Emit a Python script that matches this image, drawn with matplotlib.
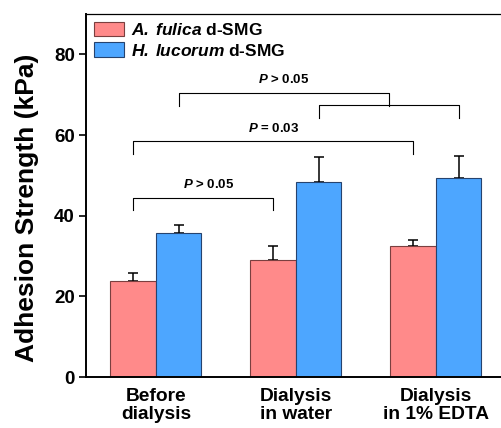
import matplotlib
matplotlib.use("Agg")
import matplotlib.pyplot as plt
import numpy as np

plt.rcParams['font.family'] = 'Liberation Sans'
plt.rcParams['font.weight'] = 'bold'
plt.rcParams['mathtext.fontset'] = 'custom'
plt.rcParams['mathtext.bfit'] = 'Liberation Sans:italic:bold'
plt.rcParams['mathtext.rm'] = 'Liberation Sans:bold'

categories = ["Before\ndialysis", "Dialysis\nin water", "Dialysis\nin 1% EDTA"]
fulica = [23.8, 29.0, 32.4]
fulica_err = [1.9, 3.6, 1.6]
lucorum = [35.8, 48.4, 49.3]
lucorum_err = [2.0, 6.2, 5.5]

w = 0.325
x = np.arange(len(categories))

fig = plt.figure(figsize=(5.01, 4.28), dpi=100)
ax = fig.add_axes([86/501, 1 - 377/428, 417/501, 363/428])

ax.bar(x - w/2, fulica, w, color="#FF8A8A", edgecolor="#7a3f3f", linewidth=0.8,
       label=r"$\mathbfit{A.\,fulica}$ d-SMG", zorder=2)
ax.bar(x + w/2, lucorum, w, color="#4DA6FF", edgecolor="#26436e", linewidth=0.8,
       label=r"$\mathbfit{H.\,lucorum}$ d-SMG", zorder=2)
ax.errorbar(x - w/2, fulica, yerr=[[0]*3, fulica_err], fmt="none", ecolor="black",
            elinewidth=1.1, capsize=3.4, capthick=1.1, zorder=1)
ax.errorbar(x + w/2, lucorum, yerr=[[0]*3, lucorum_err], fmt="none", ecolor="black",
            elinewidth=1.1, capsize=3.4, capthick=1.1, zorder=1)

def bracket(x1, x2, y, drop, label=None, lx=None):
    ax.plot([x1, x1, x2, x2], [y - drop, y, y, y - drop], color="black", lw=0.8)
    if label:
        ax.text(lx if lx is not None else (x1 + x2) / 2, y + 1.6, label,
                ha="center", va="bottom", fontsize=9.5, fontweight="bold")

bracket(x[0] - w/2, x[1] - w/2, 44.5, 3.2, r"$\mathbfit{P}$ > 0.05", 0.375)
bracket(x[0] - w/2, x[2] - w/2, 58.5, 3.2, r"$\mathbfit{P}$ = 0.03")
bracket(x[1] + w/2, x[2] + w/2, 67.4, 3.1)
bracket(x[0] + w/2, (x[1] + x[2]) / 2 + w/2, 70.5, 3.2, r"$\mathbfit{P}$ > 0.05")

ax.set_xlim(-0.5, 2.479)
ax.set_ylim(0, 90)
ax.set_yticks([0, 20, 40, 60, 80])
ax.set_xticks(x)
ax.set_xticklabels(categories, fontsize=13.8, fontweight="bold", linespacing=1.05)
ax.tick_params(axis="x", length=0, pad=8)
ax.tick_params(axis="y", labelsize=13.5, length=5, width=1.2, pad=3)
for s in ["left", "bottom"]:
    ax.spines[s].set_linewidth(1.4)
ax.spines["top"].set_linewidth(0.9)
ax.set_ylabel("Adhesion Strength (kPa)", fontsize=19, fontweight="bold")
ax.yaxis.set_label_coords(-47/417, 0.466)

ax.legend(loc="upper left", frameon=False, fontsize=12.5, handlelength=1.72,
          handleheight=0.9, handletextpad=0.4, labelspacing=0.25,
          borderaxespad=0.0, borderpad=0.45)

fig.savefig("out.png", dpi=100)
